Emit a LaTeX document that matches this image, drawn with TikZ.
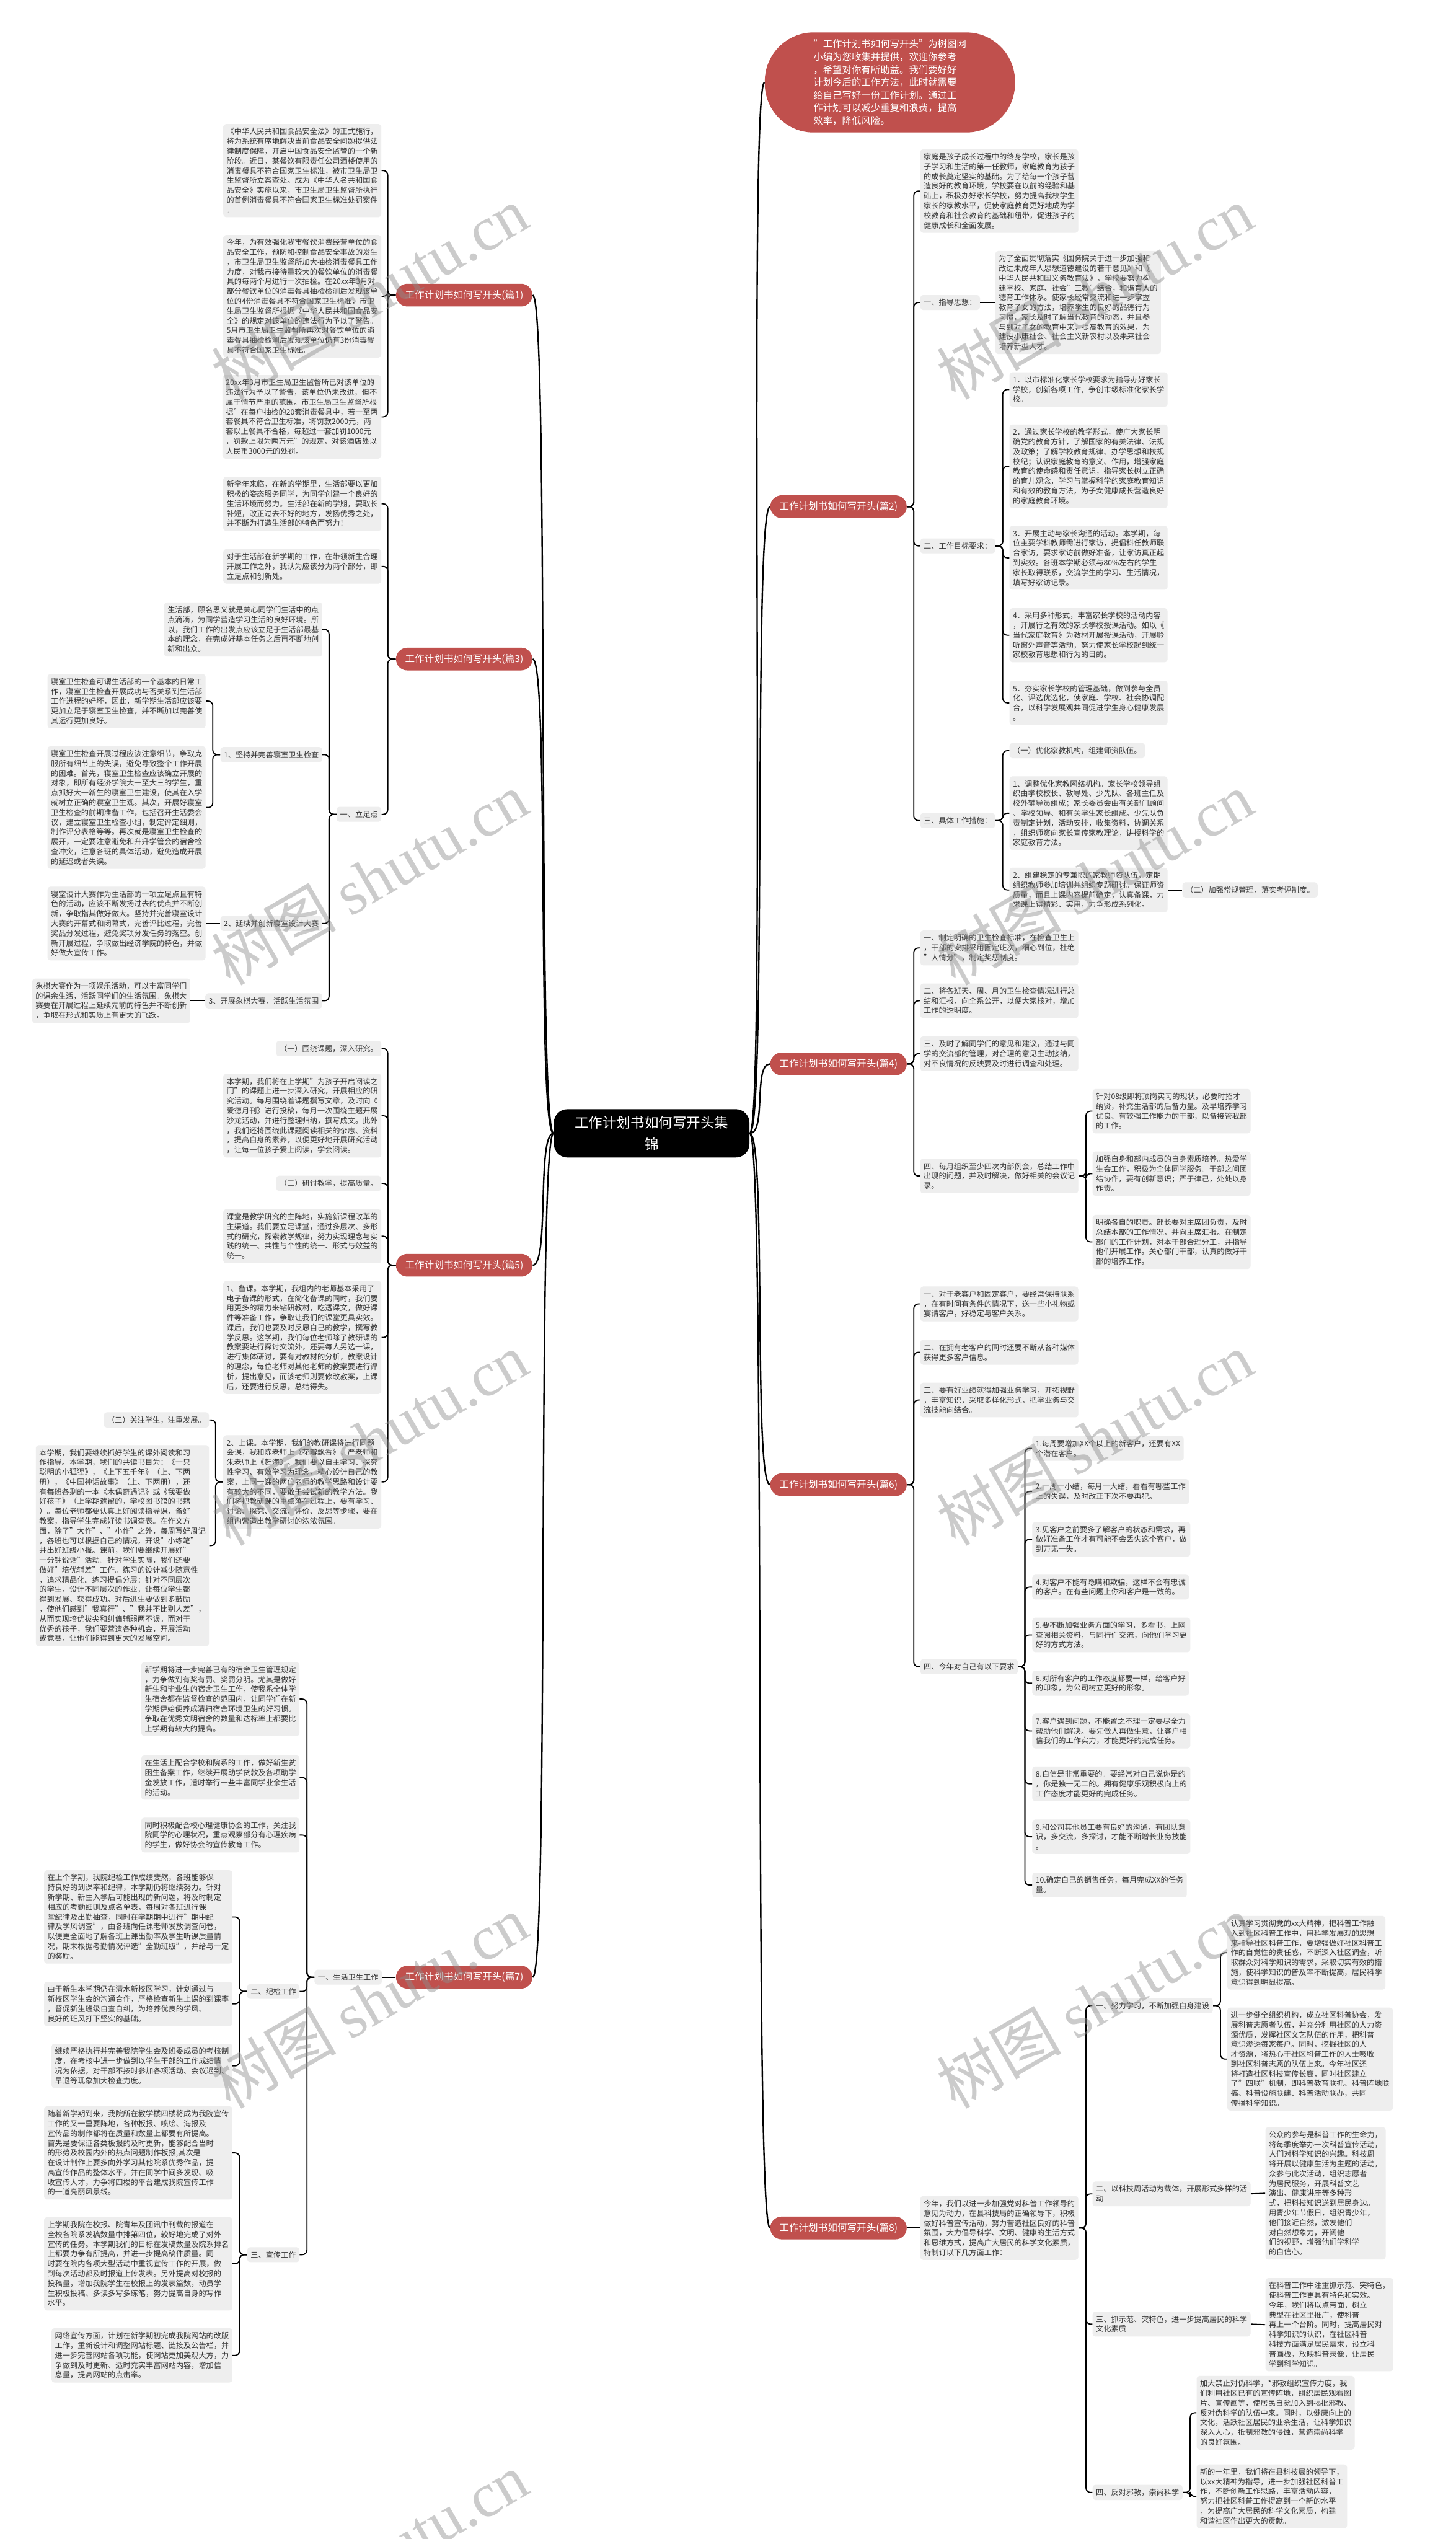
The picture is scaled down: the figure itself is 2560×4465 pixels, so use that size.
\documentclass[tikz,border=0pt]{standalone}
\usepackage{fontspec}
\setmainfont{Noto Sans CJK SC}
\newfontfamily\wmlatin{Liberation Serif}
\definecolor{redc}{RGB}{192,80,77}
\definecolor{boxg}{RGB}{238,238,238}
\definecolor{txtc}{RGB}{51,51,51}
\begin{document}
\begin{tikzpicture}[x=0.5pt,y=-0.5pt,
  tb/.style={fill=boxg,text=txtc,rounded corners=2.5pt,align=left,inner xsep=3pt,inner ysep=3.5pt,font=\fontsize{6.65}{8.6}\selectfont},
  tr/.style={tb,anchor=west},
  tl/.style={tb,anchor=east},
  rb/.style={fill=redc,text=white,rounded corners=10pt,font=\fontsize{8.5}{10}\selectfont,inner xsep=8pt,inner ysep=0pt,minimum height=20pt},
  conn/.style={draw=black,line width=1pt,rounded corners=4pt},
  mainc/.style={draw=black,line width=1.3pt},
  wm/.style={text=black!45,text opacity=0.45,rotate=30,font=\fontsize{55}{55}\selectfont}
]
\useasboundingbox (0,0) rectangle (2560,4465);
\fill[white] (0,0) rectangle (2560,4465);

% ---------- centre and balloon ----------
\node[fill=black,text=white,rounded corners=12pt,minimum width=172pt,minimum height=42.5pt,align=center,font=\fontsize{12.3}{19}\selectfont] (ctr) at (1146,1993) {工作计划书如何写开头集\\锦};
\node[fill=redc,text=white,rounded corners=43pt,minimum width=220pt,minimum height=88pt,align=left,font=\fontsize{8.4}{11.25}\selectfont] (ball) at (1565,145) {"工作计划书如何写开头"为树图网\\小编为您收集并提供，欢迎你参考\\，希望对你有所助益。我们要好好\\计划今后的工作方法，此时就需要\\给自己写好一份工作计划。通过工\\作计划可以减少重复和浪费，提高\\效率，降低风险。};

% ---------- branch nodes ----------
\node[rb,anchor=west] (b1) at (696,519) {工作计划书如何写开头(篇1)};
\node[rb,anchor=west] (b3) at (696,1159) {工作计划书如何写开头(篇3)};
\node[rb,anchor=west] (b5) at (696,2225) {工作计划书如何写开头(篇5)};
\node[rb,anchor=west] (b7) at (696,3477) {工作计划书如何写开头(篇7)};
\node[rb,anchor=east] (b2) at (1595,891) {工作计划书如何写开头(篇2)};
\node[rb,anchor=east] (b4) at (1595,1871) {工作计划书如何写开头(篇4)};
\node[rb,anchor=east] (b6) at (1595,2611) {工作计划书如何写开头(篇6)};
\node[rb,anchor=east] (b8) at (1595,3918) {工作计划书如何写开头(篇8)};

\foreach \b in {b1,b3,b5,b7} \draw[mainc] (ctr.west) .. controls +(-30,0) and +(30,0) .. (\b.east);
\foreach \b in {b2,b4,b6,b8,ball} \draw[mainc] (ctr.east) .. controls +(30,0) and +(-30,0) .. (\b.west);

% ================= 篇1 =================
\node[tl] (p1) at (671,300) {《中华人民共和国食品安全法》的正式施行，\\将为系统有序地解决当前食品安全问题提供法\\律制度保障，开启中国食品安全监管的一个新\\阶段。近日，某餐饮有限责任公司酒楼使用的\\消毒餐具不符合国家卫生标准，被市卫生局卫\\生监督所立案查处。成为《中华人名共和国食\\品安全》实施以来，市卫生局卫生监督所执行\\的首例消毒餐具不符合国家卫生标准处罚案件\\。};
\node[tl] (p2) at (671,521) {今年，为有效强化我市餐饮消费经营单位的食\\品安全工作，预防和控制食品安全事故的发生\\，市卫生局卫生监督所加大抽检消毒餐具工作\\力度，对我市接待量较大的餐饮单位的消毒餐\\具的每两个月进行一次抽检。在20xx年3月对\\部分餐饮单位的消毒餐具抽检检测后发现该单\\位的4份消毒餐具不符合国家卫生标准，市卫\\生局卫生监督所根据《中华人民共和国食品安\\全》的规定对该单位的违法行为予以了警告。\\5月市卫生局卫生监督所再次对餐饮单位的消\\毒餐具抽检检测后发现该单位仍有3份消毒餐\\具不符合国家卫生标准。};
\node[tl] (p3) at (671,733) {20xx年3月市卫生局卫生监督所已对该单位的\\违法行为予以了警告，该单位仍未改进，但不\\属于情节严重的范围。市卫生局卫生监督所根\\据"在每户抽检的20套消毒餐具中，若一至两\\套餐具不符合卫生标准，将罚款2000元，两\\套以上餐具不合格，每超过一套加罚1000元\\，罚款上限为两万元"的规定，对该酒店处以\\人民币3000元的处罚。};
\foreach \c in {p1,p2,p3} \draw[conn] (b1.west) -- ++(-14,0) |- (\c.east);

% ================= 篇3 =================
\node[tl] (q1) at (671,886) {新学年来临，在新的学期里，生活部要以更加\\积极的姿态服务同学，为同学创建一个良好的\\生活环境而努力。生活部在新的学期，要取长\\补短，改正过去不好的地方，发扬优秀之处，\\并不断为打造生活部的特色而努力！};
\node[tl] (q2) at (671,996) {对于生活部在新学期的工作，在带领新生合理\\开展工作之外，我认为应该分为两个部分，即\\立足点和创新处。};
\node[tl] (q3) at (671,1432) {一、立足点};
\foreach \c in {q1,q2,q3} \draw[conn] (b3.west) -- ++(-14,0) |- (\c.east);
\node[tl] (r1) at (567,1107) {生活部，顾名思义就是关心同学们生活中的点\\点滴滴，为同学营造学习生活的良好环境。所\\以，我们工作的出发点应该立足于生活部最基\\本的理念，在完成好基本任务之后再不断地创\\新和出众。};
\node[tl] (r2) at (567,1327) {1、坚持并完善寝室卫生检查};
\node[tl] (r3) at (567,1624) {2、延续并创新寝室设计大赛};
\node[tl] (r4) at (567,1760) {3、开展象棋大赛，活跃生活氛围};
\foreach \c in {r1,r2,r3,r4} \draw[conn] (q3.west) -- ++(-13,0) |- (\c.east);
\node[tl] (s1) at (362,1233) {寝室卫生检查可谓生活部的一个基本的日常工\\作，寝室卫生检查开展成功与否关系到生活部\\工作进程的好坏，因此，新学期生活部应该要\\更加立足于寝室卫生检查，并不断加以完善使\\其运行更加良好。};
\node[tl] (s2) at (362,1420) {寝室卫生检查开展过程应该注意细节，争取克\\服所有细节上的失误，避免导致整个工作开展\\的困难。首先，寝室卫生检查应该确立开展的\\对象，即所有经济学院大一至大三的学生，重\\点抓好大一新生的寝室卫生建设，使其在入学\\就树立正确的寝室卫生观。其次，开展好寝室\\卫生检查的前期准备工作，包括召开生活委会\\议，建立寝室卫生检查小组，制定评定细则，\\制作评分表格等等。再次就是寝室卫生检查的\\展开，一定要注意避免和升升学管会的宿舍检\\查冲突，注意各班的具体活动，避免造成开展\\的延迟或者失误。};
\foreach \c in {s1,s2} \draw[conn] (r2.west) -- ++(-13,0) |- (\c.east);
\node[tl] (s3) at (362,1624) {寝室设计大赛作为生活部的一项立足点且有特\\色的活动，应该不断发扬过去的优点并不断创\\新，争取指其做好做大。坚持并完善寝室设计\\大赛的开幕式和闭幕式，完善评比过程，完善\\奖品分发过程，避免奖项分发任务的落空。创\\新开展过程，争取做出经济学院的特色，并做\\好做大宣传工作。};
\draw[conn] (r3.west) -- (s3.east);
\node[tl] (s4) at (335,1760) {象棋大赛作为一项娱乐活动，可以丰富同学们\\的课余生活，活跃同学们的生活氛围。象棋大\\赛要在开展过程上延续先前的特色并不断创新\\，争取在形式和实质上有更大的飞跃。};
\draw[conn] (r4.west) -- (s4.east);

% ================= 篇5 =================
\node[tl] (t1) at (671,1844) {（一）围绕课题，深入研究。};
\node[tl] (t2) at (671,1962) {本学期，我们将在上学期"为孩子开启阅读之\\门"的课题上进一步深入研究，开展相应的研\\究活动。每月围绕着课题撰写文章，及时向《\\爱德月刊》进行投稿，每月一次围绕主题开展\\沙龙活动，并进行整理归纳，撰写成文。此外\\，我们还将围绕此课题阅读相关的杂志、资料\\，提高自身的素养，以便更好地开展研究活动\\，让每一位孩子爱上阅读，学会阅读。};
\node[tl] (t3) at (671,2081) {（二）研讨教学，提高质量。};
\node[tl] (t4) at (671,2174) {课堂是教学研究的主阵地，实施新课程改革的\\主渠道。我们要立足课堂，通过多层次、多形\\式的研究，探索教学规律，努力实现理念与实\\践的统一、共性与个性的统一、形式与效益的\\统一。};
\node[tl] (t5) at (671,2352) {1、备课。本学期，我组内的老师基本采用了\\电子备课的形式，在简化备课的同时，我们要\\用更多的精力来钻研教材，吃透课文，做好课\\件等准备工作，争取让我们的课堂更具实效。\\课后，我们也要及时反思自己的教学，撰写教\\学反思。这学期，我们每位老师除了教研课的\\教案要进行探讨交流外，还要每人另选一课，\\进行集体研讨，要有对教材的分析，教案设计\\的理念，每位老师对其他老师的教案要进行评\\析，提出意见，而该老师则要修改教案，上课\\后，还要进行反思，总结得失。};
\node[tl] (t6) at (671,2606) {2、上课。本学期，我们的教研课将进行同题\\会课，我和陈老师上《花瓣飘香》，严老师和\\朱老师上《赶海》。我们要以自主学习、探究\\性学习、有效学习为理念，精心设计自己的教\\案，上同一课的两位老师的教学思路和设计要\\有较大的不同，要敢于尝试新的教学方法。我\\们将把教研课的重点落在过程上，要有学习、\\讨论、探究、交流、评价、反思等步骤，要在\\组内营造出教学研讨的浓浓氛围。};
\foreach \c in {t1,t2,t3,t4,t5,t6} \draw[conn] (b5.west) -- ++(-14,0) |- (\c.east);
\node[tl] (u1) at (368,2497) {（三）关注学生，注重发展。};
\node[tl] (u2) at (368,2718) {本学期，我们要继续抓好学生的课外阅读和习\\作指导。本学期，我们的共读书目为：《一只\\聪明的小狐狸》，《上下五千年》（上、下两\\册），《中国神话故事》（上、下两册），还\\有每班各剩的一本《木偶奇遇记》或《我要做\\好孩子》（上学期遗留的，学校图书馆的书籍\\）。每位老师都要认真上好阅读指导课，备好\\教案，指导学生完成好读书调查表。在作文方\\面，除了"大作"、"小作"之外，每周写好周记\\，各班也可以根据自己的情况，开设"小练笔"\\并出好班级小报。课前，我们要继续开展好"\\一分钟说话"活动。针对学生实际，我们还要\\做好"培优辅差"工作。练习的设计减少随意性\\，追求精品化。练习提倡分层：针对不同层次\\的学生，设计不同层次的作业，让每位学生都\\得到发展、获得成功。对后进生要做到多鼓励\\，使他们感到"我真行"、"我并不比别人差"，\\从而实现培优拔尖和纠偏辅弱两不误。而对于\\优秀的孩子，我们要营造各种机会，开展活动\\或竞赛，让他们能得到更大的发展空间。};
\foreach \c in {u1,u2} \draw[conn] (t6.west) -- ++(-13,0) |- (\c.east);

% ================= 篇7 =================
\node[tl] (v1) at (672,3477) {一、生活卫生工作};
\draw[conn] (b7.west) -- (v1.east);
\node[tl] (w1) at (527,2988) {新学期将进一步完善已有的宿舍卫生管理规定\\，力争做到有奖有罚、奖罚分明。尤其是做好\\新生和毕业生的宿舍卫生工作，使我系全体学\\生宿舍都在监督检查的范围内，让同学们在新\\学期伊始便养成清扫宿舍环境卫生的好习惯。\\争取在优秀文明宿舍的数量和达标率上都要比\\上学期有较大的提高。};
\node[tl] (w2) at (527,3126) {在生活上配合学校和院系的工作，做好新生贫\\困生备案工作，继续开展助学贷款及各项助学\\金发放工作，适时举行一些丰富同学业余生活\\的活动。};
\node[tl] (w3) at (527,3227) {同时积极配合校心理健康协会的工作，关注我\\院同学的心理状况，重点观察部分有心理疾病\\的学生，做好协会的宣传教育工作。};
\node[tl] (w4) at (527,3502) {二、纪检工作};
\node[tl] (w5) at (527,3965) {三、宣传工作};
\foreach \c in {w1,w2,w3,w4,w5} \draw[conn] (v1.west) -- ++(-13,0) |- (\c.east);
\node[tl] (x1) at (409,3371) {在上个学期，我院纪检工作成绩斐然，各班能够保\\持良好的到课率和纪律，本学期仍将继续努力。针对\\新学期、新生入学后可能出现的新问题，将及时制定\\相应的考勤细则及点名单表，每周对各班进行课\\堂纪律及出勤抽查，同时在学期期中进行"期中纪\\律及学风调查"，由各班向任课老师发放调查问卷，\\以便更全面地了解各班上课出勤率及学生听课质量情\\况，期末根据考勤情况评选"全勤班级"，并给与一定\\的奖励。};
\node[tl] (x2) at (409,3524) {由于新生本学期仍在清水新校区学习，计划通过与\\新校区学生会的沟通合作，严格检查新生上课的到课率\\，督促新生班级自查自纠，为培养优良的学风、\\良好的班风打下坚实的基础。};
\node[tl] (x3) at (409,3633) {继续严格执行并完善我院学生会及班委成员的考核制\\度，在考核中进一步做到以学生干部的工作成绩情\\况为依据，对干部不按时参加各项活动、会议迟到、\\早退等现象加大检查力度。};
\foreach \c in {x1,x2,x3} \draw[conn] (w4.west) -- ++(-13,0) |- (\c.east);
\node[tl] (x4) at (409,3786) {随着新学期到来，我院所在教学楼四楼将成为我院宣传\\工作的又一重要阵地，各种板报、喷绘、海报及\\宣传品的制作都将在质量和数量上都要有所提高。\\首先是要保证各类板报的及时更新，能够配合当时\\的形势及校园内外的热点问题制作板报;其次是\\在设计制作上要多向外学习其他院系优秀作品，提\\高宣传作品的整体水平，并在同学中间多发现、吸\\收宣传人才，力争将四楼的平台建成我院宣传工作\\的一道亮丽风景线。};
\node[tl] (x5) at (409,3981) {上学期我院在校报、院青年及团讯中刊载的报道在\\全校各院系发稿数量中排第四位，较好地完成了对外\\宣传的任务。本学期我们的目标在发稿数量及院系排名\\上都要力争有所提高，并进一步提高稿件质量。同\\时要在院内各项大型活动中重视宣传工作的开展，做\\到每次活动都及时报道上传发表。另外提高对校报的\\投稿量，增加我院学生在校报上的发表篇数，动员学\\生积极投稿、多读多写多练笔，努力提高自身的写作\\水平。};
\node[tl] (x6) at (409,4142) {网络宣传方面，计划在新学期初完成我院网站的改版\\工作，重新设计和调整网站标题、链接及公告栏，并\\进一步完善网站各项功能，使网站更加美观大方，力\\争做到及时更新、适时充实丰富网站内容，增加信\\息量，提高网站的点击率。};
\foreach \c in {x4,x5,x6} \draw[conn] (w5.west) -- ++(-13,0) |- (\c.east);

% ================= 篇2 =================
\node[tr] (e0) at (1618,336) {家庭是孩子成长过程中的终身学校，家长是孩\\子学习和生活的第一任教师，家庭教育为孩子\\的成长奠定坚实的基础。为了给每一个孩子营\\造良好的教育环境，学校要在以前的经验和基\\础上，积极办好家长学校，努力提高我校学生\\家长的家教水平，促使家庭教育更好地成为学\\校教育和社会教育的基础和纽带，促进孩子的\\健康成长和全面发展。};
\node[tr] (e1) at (1618,532) {一、指导思想：};
\node[tr] (e2) at (1618,960) {二、工作目标要求：};
\node[tr] (e3) at (1618,1443) {三、具体工作措施：};
\foreach \c in {e0,e1,e2,e3} \draw[conn] (b2.east) -- ++(12,0) |- (\c.west);
\node[tr] (e1a) at (1750,532) {为了全面贯彻落实《国务院关于进一步加强和\\改进未成年人思想道德建设的若干意见》和《\\中华人民共和国义务教育法》，学校要努力构\\建学校、家庭、社会"三教"结合，和谐育人的\\德育工作体系。使家长经常交流和进一步掌握\\教育子女的方法，培养学生的良好的品德行为\\习惯，家长及时了解当代教育的动态，并且参\\与到对子女的教育中来，提高教育的效果，为\\建设小康社会、社会主义新农村以及未来社会\\培养新型人才。};
\draw[conn] (e1.east) -- (e1a.west);
\node[tr] (f1) at (1775,685) {1．以市标准化家长学校要求为指导办好家长\\学校，创新各项工作，争创市级标准化家长学\\校。};
\node[tr] (f2) at (1775,820) {2．通过家长学校的教学形式，使广大家长明\\确党的教育方针，了解国家的有关法律、法规\\及政策；了解学校教育规律、办学思想和校规\\校纪；认识家庭教育的意义、作用，增强家庭\\教育的使命感和责任意识，指导家长树立正确\\的育儿观念，学习与掌握科学的家庭教育知识\\和有效的教育方法，为子女健康成长营造良好\\的家庭教育环境。};
\node[tr] (f3) at (1775,981) {3．开展主动与家长沟通的活动。本学期，每\\位主要学科教师需进行家访，提倡科任教师联\\合家访，要求家访前做好准备，让家访真正起\\到实效。各班本学期必须与80\%左右的学生\\家长取得联系，交流学生的学习、生活情况，\\填写好家访记录。};
\node[tr] (f4) at (1775,1117) {4．采用多种形式，丰富家长学校的活动内容\\，开展行之有效的家长学校授课活动。如以《\\当代家庭教育》为教材开展授课活动，开展聆\\听窗外声音等活动，努力使家长学校起到统一\\家校教育思想和行为的目的。};
\node[tr] (f5) at (1775,1236) {5．夯实家长学校的管理基础，做到参与全员\\化、评选优选化，使家庭、学校、社会协调配\\合，以科学发展观共同促进学生身心健康发展\\。};
\foreach \c in {f1,f2,f3,f4,f5} \draw[conn] (e2.east) -- ++(13,0) |- (\c.west);
\node[tr] (g1) at (1775,1320) {（一）优化家教机构，组建师资队伍。};
\node[tr] (g2) at (1775,1430) {1、调整优化家教网络机构。家长学校领导组\\织由学校校长、教导处、少先队、各班主任及\\校外辅导员组成；家长委员会由有关部门顾问\\、学校领导、和有关学生家长组成。少先队负\\责制定计划，活动安排，收集资料，协调关系\\，组织师资向家长宣传家教理论，讲授科学的\\家庭教育方法。};
\node[tr] (g3) at (1775,1565) {2、组建稳定的专兼职的家教师资队伍，定期\\组织教师参加培训并组织专题研讨。保证师资\\质量，而且上课内容提前确定，认真备课，力\\求课上得精彩、实用，力争形成系列化。};
\foreach \c in {g1,g2,g3} \draw[conn] (e3.east) -- ++(13,0) |- (\c.west);
\node[tr] (g4) at (2079,1565) {（二）加强常规管理，落实考评制度。};
\draw[conn] (g3.east) -- (g4.west);

% ================= 篇4 =================
\node[tr] (i1) at (1618,1667) {一、制定明确的卫生检查标准，在检查卫生上\\，干部的安排采用固定班次，细心到位，杜绝\\"人情分"，制定奖惩制度。};
\node[tr] (i2) at (1618,1760) {二、将各班天、周、月的卫生检查情况进行总\\结和汇报，向全系公开，以便大家核对，增加\\工作的透明度。};
\node[tr] (i3) at (1618,1853) {三、及时了解同学们的意见和建议，通过与同\\学的交流部的管理，对合理的意见主动接纳，\\对不良情况的反映要及时进行调查和处理。};
\node[tr] (i4) at (1618,2068) {四、每月组织至少四次内部例会，总结工作中\\出现的问题，并及时解决，做好相关的会议记\\录。};
\foreach \c in {i1,i2,i3,i4} \draw[conn] (b4.east) -- ++(12,0) |- (\c.west);
\node[tr] (j1) at (1921,1954) {针对08级即将顶岗实习的现状，必要时招才\\纳贤，补充生活部的后备力量。及早培养学习\\优良、有较强工作能力的干部，以备接管我部\\的工作。};
\node[tr] (j2) at (1921,2064) {加强自身和部内成员的自身素质培养。热爱学\\生会工作，积极为全体同学服务。干部之间团\\结协作，要有创新意识；严于律己，处处以身\\作责。};
\node[tr] (j3) at (1921,2184) {明确各自的职责。部长要对主席团负责，及时\\总结本部的工作情况，并向主席汇报。在制定\\部门的工作计划，对本干部合理分工，并指导\\他们开展工作。关心部门干部，认真的做好干\\部的培养工作。};
\foreach \c in {j1,j2,j3} \draw[conn] (i4.east) -- ++(13,0) |- (\c.west);

% ================= 篇6 =================
\node[tr] (k1) at (1618,2293) {一、对于老客户和固定客户，要经常保持联系\\，在有时间有条件的情况下，送一些小礼物或\\宴请客户，好稳定与客户关系。};
\node[tr] (k2) at (1618,2378) {二、在拥有老客户的同时还要不断从各种媒体\\获得更多客户信息。};
\node[tr] (k3) at (1618,2462) {三、要有好业绩就得加强业务学习，开拓视野\\，丰富知识，采取多样化形式，把学业务与交\\流技能向结合。};
\node[tr] (k4) at (1618,2931) {四、今年对自己有以下要求};
\foreach \c in {k1,k2,k3,k4} \draw[conn] (b6.east) -- ++(12,0) |- (\c.west);
\node[tr] (l1) at (1815,2547) {1.每周要增加XX个以上的新客户，还要有XX\\个潜在客户。};
\node[tr] (l2) at (1815,2623) {2.一周一小结，每月一大结，看看有哪些工作\\上的失误，及时改正下次不要再犯。};
\node[tr] (l3) at (1815,2707) {3.见客户之前要多了解客户的状态和需求，再\\做好准备工作才有可能不会丢失这个客户，做\\到万无一失。};
\node[tr] (l4) at (1815,2791) {4.对客户不能有隐瞒和欺骗，这样不会有忠诚\\的客户。在有些问题上你和客户是一致的。};
\node[tr] (l5) at (1815,2875) {5.要不断加强业务方面的学习，多看书，上网\\查阅相关资料，与同行们交流，向他们学习更\\好的方式方法。};
\node[tr] (l6) at (1815,2960) {6.对所有客户的工作态度都要一样，给客户好\\的印象，为公司树立更好的形象。};
\node[tr] (l7) at (1815,3044) {7.客户遇到问题，不能置之不理一定要尽全力\\帮助他们解决。要先做人再做生意，让客户相\\信我们的工作实力，才能更好的完成任务。};
\node[tr] (l8) at (1815,3137) {8.自信是非常重要的。要经常对自己说你是的\\，你是独一无二的。拥有健康乐观积极向上的\\工作态度才能更好的完成任务。};
\node[tr] (l9) at (1815,3230) {9.和公司其他员工要有良好的沟通，有团队意\\识，多交流，多探讨，才能不断增长业务技能\\。};
\node[tr] (l10) at (1815,3315) {10.确定自己的销售任务，每月完成XX的任务\\量。};
\foreach \c in {l1,l2,l3,l4,l5,l6,l7,l8,l9,l10} \draw[conn] (k4.east) -- ++(12,0) |- (\c.west);

% ================= 篇8 =================
\node[tr] (m0) at (1618,3918) {今年，我们以进一步加强党对科普工作领导的\\意见为动力，在县科技局的正确领导下，积极\\做好科普宣传活动，努力营造社区良好的科普\\氛围，大力倡导科学、文明、健康的生活方式\\和思维方式，提高广大居民的科学文化素质，\\特制订以下几方面工作：};
\draw[conn] (b8.east) -- (m0.west);
\node[tr] (n1) at (1921,3527) {一、努力学习，不断加强自身建设};
\node[tr] (n2) at (1921,3858) {二、以科技周活动为载体，开展形式多样的活\\动};
\node[tr] (n3) at (1921,4087) {三、抓示范、突特色，进一步提高居民的科学\\文化素质};
\node[tr] (n4) at (1921,4383) {四、反对邪教，崇尚科学};
\foreach \c in {n1,n2,n3,n4} \draw[conn] (m0.east) -- ++(13,0) |- (\c.west);
\node[tr] (o1) at (2158,3434) {认真学习贯彻党的xx大精神，把科普工作融\\入到社区科普工作中，用科学发展观的思想\\来指导社区科普工作，要增强做好社区科普工\\作的自觉性的责任感，不断深入社区调查，听\\取群众对科学知识的需求，采取切实有效的措\\施，使科学知识的普及率不断提高，居民科学\\意识得到明显提高。};
\node[tr] (o2) at (2158,3621) {进一步健全组织机构，成立社区科普协会，发\\展科普志愿者队伍，并充分利用社区的人力资\\源优质，发挥社区文艺队伍的作用，把科普\\意识渗透每家每户。同时，挖掘社区的人\\才资源，将热心于社区科普工作的人士吸收\\到社区科普志愿的队伍上来。今年社区还\\将打造社区科技宣传长廊，同时社区建立\\了"四联"机制，即科普教育联抓、科普阵地联\\搞、科普设施联建、科普活动联办，共同\\传播科学知识。};
\foreach \c in {o1,o2} \draw[conn] (n1.east) -- ++(13,0) |- (\c.west);
\node[tr] (o3) at (2225,3857) {公众的参与是科普工作的生命力，\\将每季度举办一次科普宣传活动，\\人们对科学知识的兴趣。科技周\\将开展以健康生活为主题的活动，\\众参与此次活动，组织志愿者\\为居民服务，开展科普文艺\\演出、健康讲座等多种形\\式，把科技知识送到居民身边。\\用青少年节假日，组织青少年，\\他们接近自然，激发他们\\对自然想象力，开阔他\\们的视野，增强他们学科学\\的自信心。};
\draw[conn] (n2.east) -- (o3.west);
\node[tr] (o4) at (2225,4088) {在科普工作中注重抓示范、突特色，\\使科普工作更具有特色和实效。\\今年，我们将以点带面，树立\\典型在社区里推广，使科普\\再上一个台阶。同时，提高居民对\\科学知识的认识，在社区科普\\科技方面满足居民需求，设立科\\普画板，放映科普录像，让居民\\学到科学知识。};
\draw[conn] (n3.east) -- (o4.west);
\node[tr] (o5) at (2104,4243) {加大禁止对伪科学，*邪教组织宣传力度，我\\们利用社区已有的宣传阵地，组织居民观看图\\片、宣传画等，使居民自觉加入到揭批邪教、\\反对伪科学的队伍中来。同时，以健康向上的\\文化，活跃社区居民的业余生活，让科学知识\\深入人心，抵制邪教的侵蚀，营造崇尚科学\\的良好氛围。};
\node[tr] (o6) at (2104,4390) {新的一年里，我们将在县科技局的领导下，\\以xx大精神为指导，进一步加强社区科普工\\作，不断创新工作思路，丰富活动内容，\\努力把社区科普工作提高到一个新的水平\\，为提高广大居民的科学文化素质，构建\\和谐社区作出更大的贡献。};
\foreach \c in {o5,o6} \draw[conn] (n4.east) -- ++(13,0) |- (\c.west);

% ---------- watermarks ----------
\foreach \x in {650,1925} \foreach \y in {515,1545,2530,3520}
  \node[wm] at (\x,\y) {树图 {\wmlatin shutu.cn}};
\node[wm] at (650,4500) {树图 {\wmlatin shutu.cn}};
\end{tikzpicture}
\end{document}
